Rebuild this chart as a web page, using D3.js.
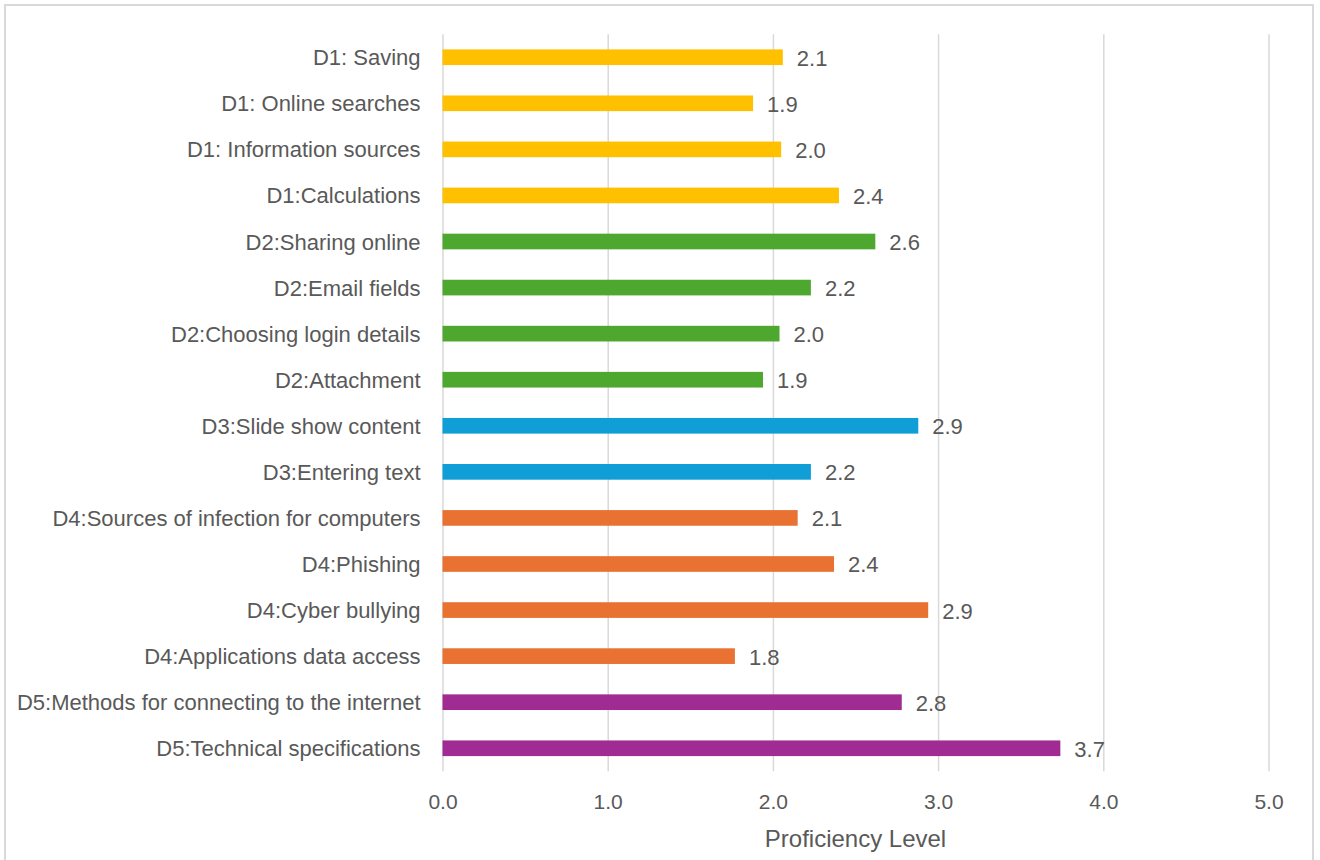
<!DOCTYPE html>
<html>
<head>
<meta charset="utf-8">
<script src="https://cdn.jsdelivr.net/npm/d3@7"></script>
<style>
  html, body { margin: 0; padding: 0; background: #ffffff; }
  svg { display: block; }
  text { font-family: "Liberation Sans", Arial, sans-serif; fill: #595959; }
</style>
</head>
<body>
<svg id="chart" width="1320" height="860"></svg>
<script>
const categories = [
  "D1: Saving",
  "D1: Online searches",
  "D1: Information sources",
  "D1:Calculations",
  "D2:Sharing online",
  "D2:Email fields",
  "D2:Choosing login details",
  "D2:Attachment",
  "D3:Slide show content",
  "D3:Entering text",
  "D4:Sources of infection for computers",
  "D4:Phishing",
  "D4:Cyber bullying",
  "D4:Applications data access",
  "D5:Methods for connecting to the internet",
  "D5:Technical specifications"
];
const values = [2.06, 1.88, 2.05, 2.40, 2.62, 2.23, 2.04, 1.94, 2.88, 2.23, 2.15, 2.37, 2.94, 1.77, 2.78, 3.74];
const groups = ["D1","D1","D1","D1","D2","D2","D2","D2","D3","D3","D4","D4","D4","D4","D5","D5"];
const groupNames = ["D1","D2","D3","D4","D5"];
const groupColors = ["#FFC000","#4EA72E","#0F9ED5","#E97132","#A02B93"];
const xTicks = [0, 1, 2, 3, 4, 5];
const xTitle = "Proficiency Level";

const svg = d3.select("#chart");

// chart border
svg.append("rect")
  .attr("x", 5).attr("y", 5)
  .attr("width", 1308).attr("height", 870)
  .attr("fill", "none").attr("stroke", "#d9d9d9").attr("stroke-width", 2);

const plotLeft = 442.5, plotRight = 1268.5, plotTop = 34.2, plotBottom = 771.3;

const x = d3.scaleLinear().domain([0, 5]).range([plotLeft, plotRight]);
const y = d3.scaleBand().domain(categories).range([plotTop, plotBottom])
  .paddingInner(0.66).paddingOuter(0.33);
const color = d3.scaleOrdinal().domain(groupNames).range(groupColors);

// gridlines + tick labels via axis
const xAxis = d3.axisBottom(x)
  .tickValues(xTicks)
  .tickFormat(d3.format(".1f"))
  .tickSize(-(plotBottom - plotTop))
  .tickPadding(0);
const gx = svg.append("g")
  .attr("transform", `translate(0,${plotBottom})`)
  .call(xAxis);
gx.select(".domain").remove();
gx.selectAll(".tick line").attr("stroke", "#d9d9d9").attr("stroke-width", 1.5);
gx.selectAll(".tick text")
  .attr("y", 38).attr("dy", 0)
  .attr("font-size", "21px")
  .style("fill", "#595959")
  .attr("font-family", null);

// bars
svg.append("g").selectAll("rect")
  .data(categories)
  .join("rect")
  .attr("x", x(0))
  .attr("y", d => y(d))
  .attr("width", (d, i) => x(values[i]) - x(0))
  .attr("height", y.bandwidth())
  .attr("fill", (d, i) => color(groups[i]));

// category labels
svg.append("g").selectAll("text")
  .data(categories)
  .join("text")
  .attr("x", plotLeft - 22)
  .attr("y", d => y(d) + y.bandwidth() / 2 + 8)
  .attr("text-anchor", "end")
  .attr("font-size", "22px")
  .text(d => d);

// value labels
svg.append("g").selectAll("text")
  .data(categories)
  .join("text")
  .attr("x", (d, i) => x(values[i]) + 14)
  .attr("y", d => y(d) + y.bandwidth() / 2 + 8.5)
  .attr("font-size", "22px")
  .text((d, i) => d3.format(".1f")(values[i]));

// axis title
svg.append("text")
  .attr("x", (plotLeft + plotRight) / 2)
  .attr("y", 846.5)
  .attr("text-anchor", "middle")
  .attr("font-size", "24px")
  .text(xTitle);
</script>
</body>
</html>
